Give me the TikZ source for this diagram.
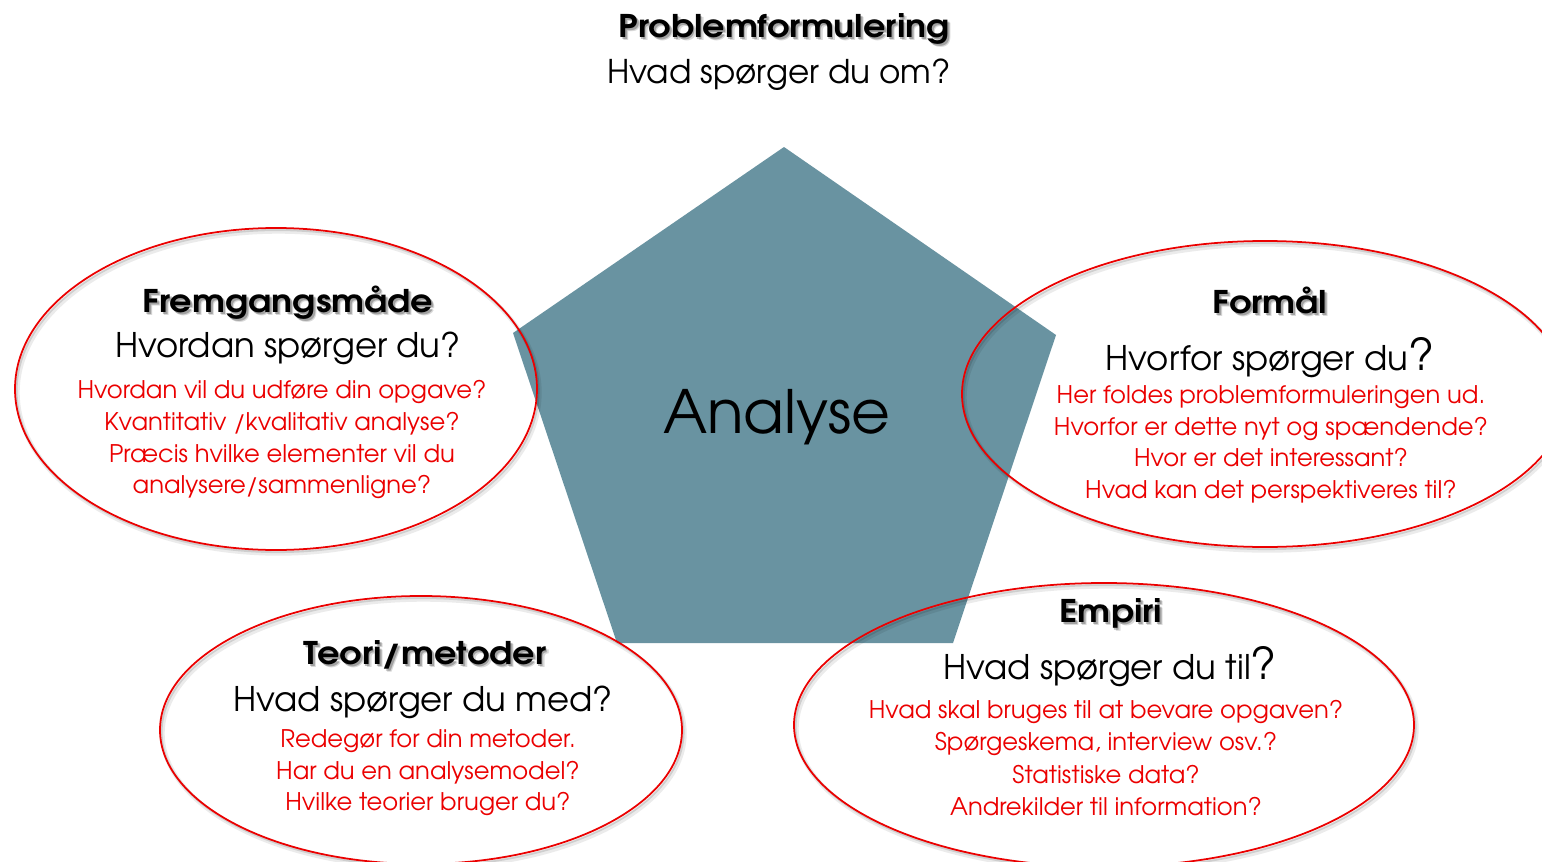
\documentclass[tikz,border=0pt]{standalone}
\usepackage{fontspec}
\setmainfont{texgyreadventor}[Extension=.otf, UprightFont=*-regular, BoldFont=*-bold, ItalicFont=*-italic, BoldItalicFont=*-bolditalic, BoldFeatures={FakeStretch=1.12}]
\usetikzlibrary{calc}
\definecolor{pent}{RGB}{105,147,161}
\definecolor{ered}{RGB}{235,0,0}
\tikzset{
  headtxt/.style={inner sep=0pt, anchor=base, font=\bfseries\fontsize{#1}{#1}\selectfont, text=black},
  headshd/.style={inner sep=0pt, anchor=base, font=\bfseries\fontsize{#1}{#1}\selectfont, text=black},
  subtxt/.style={inner sep=0pt, anchor=base, font=\fontsize{19.3}{22}\selectfont, text=black},
  redtxt/.style={inner sep=0pt, anchor=north, align=center, font=\fontsize{13.8}{18.1}\selectfont, text=ered},
  ellline/.style={draw=ered, line width=1pt},
  ellshadow/.style={draw=black, line width=2.5pt, opacity=0.08},
  ellshadowb/.style={draw=black, line width=1.2pt, opacity=0.12},
}
\newcommand\shhead[4]{%
  \node[headshd=#3, opacity=0.15] (#1s1) at ([shift={(3,3.5)}]#2) {#4};
  \node[headshd=#3, opacity=0.25] (#1s2) at ([shift={(1.8,2.2)}]#2) {#4};
  \node[headtxt=#3] (#1) at (#2) {#4};}
\begin{document}
\begin{tikzpicture}[x=0.02cm,y=-0.02cm]
\useasboundingbox (0,0) rectangle (1542,862);
\clip (0,0) rectangle (1542,862);
\fill[white] (0,0) rectangle (1542,862);
% pentagon
\fill[pent] (784,147) -- (1056,335) -- (953,643) -- (617,643) -- (513,333) -- cycle;
\node[inner sep=0pt, anchor=base, font=\fontsize{34}{40}\selectfont] (analyse) at (777,433) {Analyse};
% ellipses
\foreach \cx/\cy/\rx/\ry in {276/389/261/161, 1265/394/303/153, 421/730/261/134, 1104/725/310/142}{
  \draw[ellshadow] (\cx+2.5,\cy+3.5) ellipse [x radius=\rx, y radius=\ry];
  \draw[ellshadowb] (\cx+1.5,\cy+2) ellipse [x radius=\rx, y radius=\ry];
  \draw[ellline] (\cx,\cy) ellipse [x radius=\rx, y radius=\ry];
}
% top
\shhead{pf}{784,37}{17.8}{Problemformulering}
\node[subtxt, font=\fontsize{18.6}{22}\selectfont] (pfq) at (779,83) {Hvad spørger du om?};
% left
\shhead{fg}{288,312}{17.8}{Fremgangsmåde}
\node[subtxt] (fgq) at (288,357) {Hvordan spørger du?};
\node[redtxt] (fgr) at (282,380) {Hvordan vil du udføre din opgave?\\Kvantitativ /kvalitativ analyse?\\Præcis hvilke elementer vil du\\analysere/sammenligne?};
% right
\shhead{fo}{1270,313}{17.8}{Formål}
\node[subtxt] (foq) at (1270,370) {Hvorfor spørger du{\fontsize{25}{25}\selectfont ?}};
\node[redtxt] (for) at (1271,385) {Her foldes problemformuleringen ud.\\Hvorfor er dette nyt og spændende?\\Hvor er det interessant?\\Hvad kan det perspektiveres til?};
% bottom left
\shhead{te}{425,664}{17.8}{Teori/metoder}
\node[subtxt] (teq) at (423,711) {Hvad spørger du med?};
\node[redtxt] (ter) at (428,729) {Redegør for din metoder.\\Har du en analysemodel?\\Hvilke teorier bruger du?};
% bottom right
\shhead{em}{1111,622}{17.8}{Empiri}
\node[subtxt] (emq) at (1110,679) {Hvad spørger du til{\fontsize{25}{25}\selectfont ?}};
\node[redtxt, font=\fontsize{13.8}{18.4}\selectfont] (emr) at (1106,700) {Hvad skal bruges til at bevare opgaven?\\Spørgeskema, interview osv.?\\Statistiske data?\\Andrekilder til information?};
\end{tikzpicture}
\end{document}
